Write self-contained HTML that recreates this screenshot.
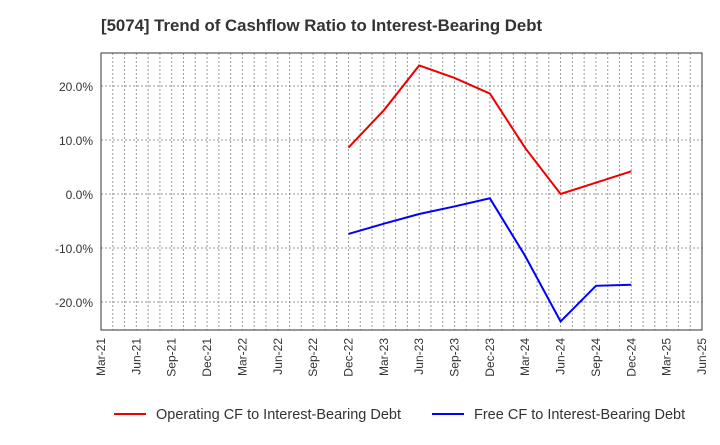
<!DOCTYPE html>
<html><head><meta charset="utf-8"><style>
body{margin:0;background:#fff;font-family:"Liberation Sans",Arial,sans-serif}
</style></head><body>
<svg width="720" height="440" id="c" font-family="Liberation Sans, Arial, sans-serif">
<text x="101" y="31" font-size="16.8" font-weight="bold" fill="#333">[5074]  Trend of Cashflow Ratio to Interest-Bearing Debt</text>
<g id="grid"></g><g id="axes"></g><g id="series"></g>
<g>
<line x1="114" y1="414" x2="146" y2="414" stroke="#e00" stroke-width="2"/>
<text x="156" y="419" font-size="14.5" fill="#333">Operating CF to Interest-Bearing Debt</text>
<line x1="432" y1="414" x2="464" y2="414" stroke="#00f" stroke-width="2"/>
<text x="474" y="419" font-size="14.5" fill="#333">Free CF to Interest-Bearing Debt</text>
</g>
</svg>
<script>
const xLabels=["Mar-21","Jun-21","Sep-21","Dec-21","Mar-22","Jun-22","Sep-22","Dec-22","Mar-23","Jun-23","Sep-23","Dec-23","Mar-24","Jun-24","Sep-24","Dec-24","Mar-25","Jun-25"];
const yTicks=[20,10,0,-10,-20];
const periods=["Dec-22","Mar-23","Jun-23","Sep-23","Dec-23","Mar-24","Jun-24","Sep-24","Dec-24"];
const operating=[8.6,15.5,23.8,21.5,18.6,8.5,0.0,2.1,4.2];
const freeCF=[-7.4,-5.5,-3.7,-2.3,-0.8,-11.5,-23.6,-17.0,-16.8];
const L=101,R=702,T=53,B=330;
const x=i=>L+(R-L)*i/(xLabels.length-1);
const xp=p=>x(xLabels.indexOf(p));
const y=v=>194-v*5.4;
const NS="http://www.w3.org/2000/svg";
function mk(t,a,parent){const e=document.createElementNS(NS,t);for(const k in a)e.setAttribute(k,a[k]);document.getElementById(parent).appendChild(e);return e;}
for(let m=1;m<(xLabels.length-1)*3;m++){
 const xx=L+(R-L)*m/((xLabels.length-1)*3);
 const g=mk('line',{x1:xx,x2:xx,y1:T,y2:B,stroke:'#999','stroke-dasharray':'2,2'},'grid');
 
 
}
yTicks.forEach(v=>{
 const g=mk('line',{x1:L,x2:R,y1:y(v),y2:y(v),stroke:'#999','stroke-dasharray':'2,2'},'grid');
 
 
 const t=mk('text',{x:L-8,y:y(v)+5,'text-anchor':'end','font-size':12,fill:'#333'},'axes');
 t.textContent=v.toFixed(1)+'%';
 
 
});
const fr=mk('rect',{x:L,y:T,width:R-L,height:B-T,fill:'none',stroke:'#333'},'axes');


xLabels.forEach((l,i)=>{
 const t=mk('text',{x:0,y:0,'text-anchor':'end','font-size':12,fill:'#333',transform:`translate(${x(i)+4},${B+8}) rotate(-90)`},'axes');
 t.textContent=l;
 
 
});
function line(vals,col,name){
 const p=mk('polyline',{points:vals.map((v,i)=>xp(periods[i])+','+y(v)).join(' '),fill:'none',stroke:col,'stroke-width':2},'series');
 
 
}
line(operating,'#e00','operating-cf-line');
line(freeCF,'#00f','free-cf-line');
</script>
</body></html>
